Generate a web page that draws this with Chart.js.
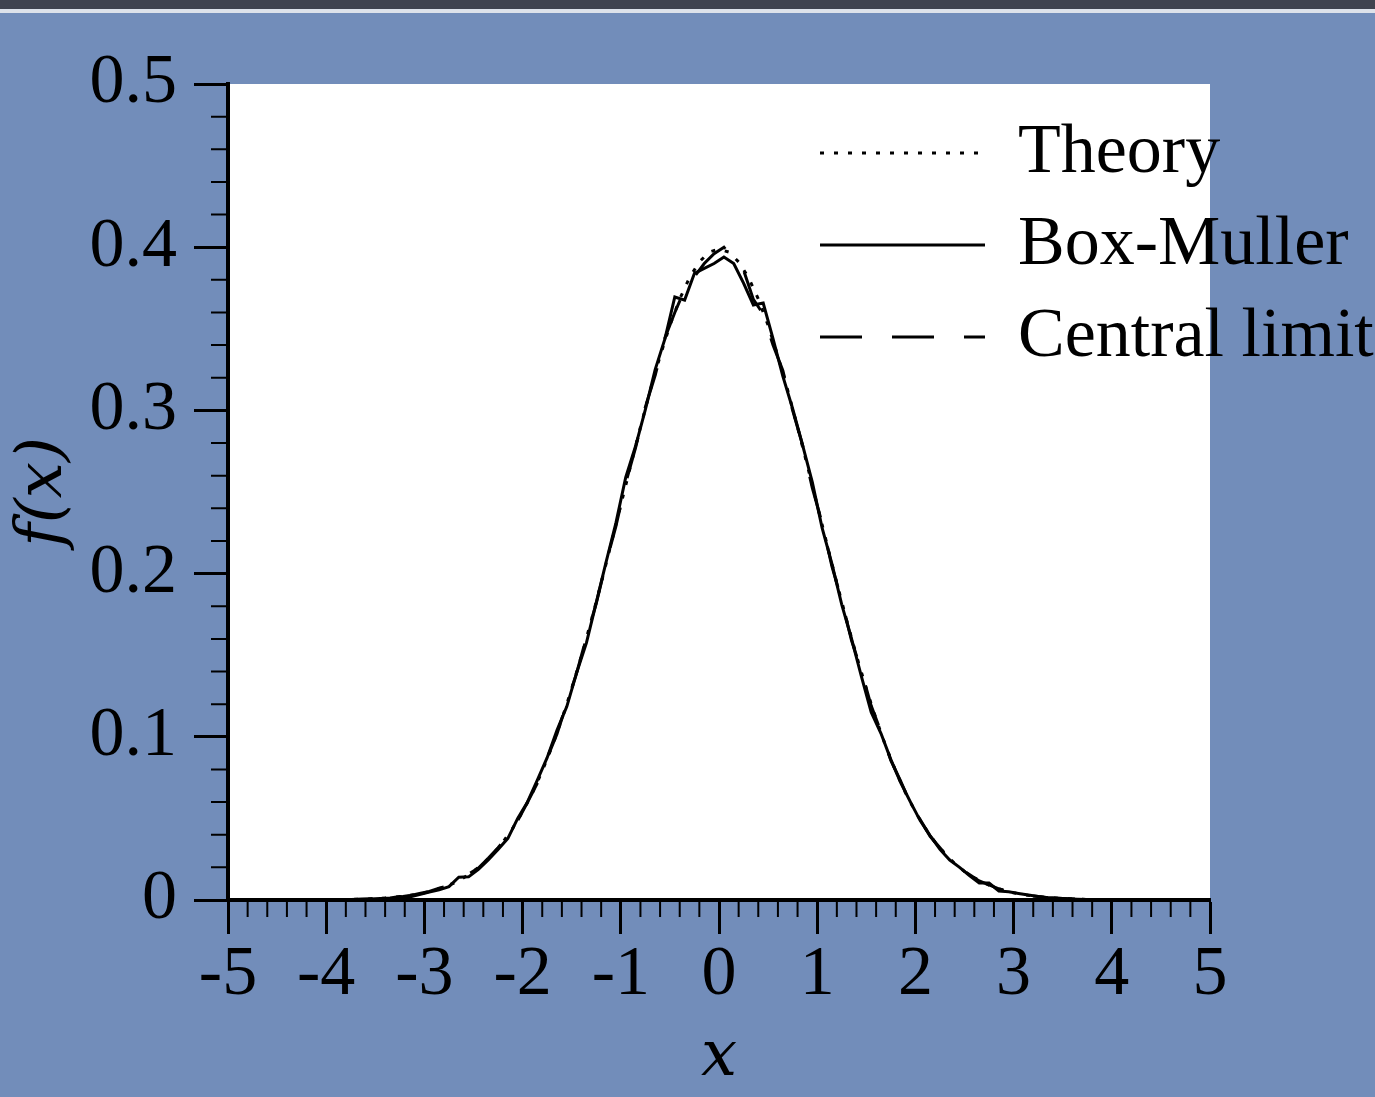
<!DOCTYPE html>
<html>
<head>
<meta charset="utf-8">
<script src="https://cdn.jsdelivr.net/npm/chart.js@4/dist/chart.umd.min.js"></script>
<style>
  html, body { margin: 0; padding: 0; background: #728dba; }
  canvas { display: block; }
</style>
</head>
<body>
<canvas id="myChart" width="1375" height="1097"></canvas>
<script>
// x positions of the theory curve
var theoryX = [-4.0, -3.9, -3.8, -3.7, -3.6, -3.5, -3.4, -3.3, -3.2, -3.1,
  -3.0, -2.9, -2.8, -2.7, -2.6, -2.5, -2.4, -2.3, -2.2, -2.1,
  -2.0, -1.9, -1.8, -1.7, -1.6, -1.5, -1.4, -1.3, -1.2, -1.1,
  -1.0, -0.9, -0.8, -0.7, -0.6, -0.5, -0.4, -0.3, -0.2, -0.1,
  0.0, 0.1, 0.2, 0.3, 0.4, 0.5, 0.6, 0.7, 0.8, 0.9,
  1.0, 1.1, 1.2, 1.3, 1.4, 1.5, 1.6, 1.7, 1.8, 1.9,
  2.0, 2.1, 2.2, 2.3, 2.4, 2.5, 2.6, 2.7, 2.8, 2.9,
  3.0, 3.1, 3.2, 3.3, 3.4, 3.5, 3.6, 3.7, 3.8, 3.9, 4.0];
var theoryY = [0.0001, 0.0002, 0.0003, 0.0004, 0.0006, 0.0009, 0.0012, 0.0017, 0.0024, 0.0033,
  0.0044, 0.0060, 0.0079, 0.0104, 0.0136, 0.0175, 0.0224, 0.0283, 0.0355, 0.0440,
  0.0540, 0.0656, 0.0790, 0.0940, 0.1109, 0.1295, 0.1497, 0.1714, 0.1942, 0.2179,
  0.2420, 0.2661, 0.2897, 0.3123, 0.3332, 0.3521, 0.3683, 0.3814, 0.3910, 0.3970,
  0.3989, 0.3970, 0.3910, 0.3814, 0.3683, 0.3521, 0.3332, 0.3123, 0.2897, 0.2661,
  0.2420, 0.2179, 0.1942, 0.1714, 0.1497, 0.1295, 0.1109, 0.0940, 0.0790, 0.0656,
  0.0540, 0.0440, 0.0355, 0.0283, 0.0224, 0.0175, 0.0136, 0.0104, 0.0079, 0.0060,
  0.0044, 0.0033, 0.0024, 0.0017, 0.0012, 0.0009, 0.0006, 0.0004, 0.0003, 0.0002, 0.0001];

// histogram bin centres for the two sampled curves
var binX = [-3.95, -3.85, -3.75, -3.65, -3.55, -3.45, -3.35, -3.25, -3.15, -3.05,
  -2.95, -2.85, -2.75, -2.65, -2.55, -2.45, -2.35, -2.25, -2.15, -2.05,
  -1.95, -1.85, -1.75, -1.65, -1.55, -1.45, -1.35, -1.25, -1.15, -1.05,
  -0.95, -0.85, -0.75, -0.65, -0.55, -0.45, -0.35, -0.25, -0.15, -0.05,
  0.05, 0.15, 0.25, 0.35, 0.45, 0.55, 0.65, 0.75, 0.85, 0.95,
  1.05, 1.15, 1.25, 1.35, 1.45, 1.55, 1.65, 1.75, 1.85, 1.95,
  2.05, 2.15, 2.25, 2.35, 2.45, 2.55, 2.65, 2.75, 2.85, 2.95,
  3.05, 3.15, 3.25, 3.35, 3.45, 3.55, 3.65, 3.75, 3.85, 3.95];
var boxMullerY = [0.0001, 0.0002, 0.0003, 0.0004, 0.0006, 0.0009, 0.0013, 0.0022, 0.0019, 0.0034,
  0.0049, 0.0062, 0.0082, 0.0140, 0.0142, 0.0188, 0.0245, 0.0310, 0.0378, 0.0500,
  0.0601, 0.0735, 0.0872, 0.1040, 0.1185, 0.1392, 0.1575, 0.1822, 0.2070, 0.2310,
  0.2590, 0.2780, 0.3005, 0.3250, 0.3440, 0.3695, 0.3676, 0.3840, 0.3870, 0.3900,
  0.3940, 0.3900, 0.3780, 0.3646, 0.3658, 0.3440, 0.3210, 0.3010, 0.2790, 0.2560,
  0.2280, 0.2060, 0.1810, 0.1600, 0.1370, 0.1150, 0.1020, 0.0860, 0.0720, 0.0600,
  0.0485, 0.0395, 0.0310, 0.0245, 0.0200, 0.0150, 0.0104, 0.0104, 0.0055, 0.0050,
  0.0040, 0.0030, 0.0021, 0.0014, 0.0010, 0.0007, 0.0005, 0.0003, 0.0002, 0.0001];
var centralLimitY = [0.0000, 0.0001, 0.0002, 0.0004, 0.0006, 0.0009, 0.0014, 0.0019, 0.0027, 0.0040,
  0.0052, 0.0072, 0.0090, 0.0121, 0.0158, 0.0196, 0.0256, 0.0320, 0.0392, 0.0486,
  0.0598, 0.0716, 0.0870, 0.1018, 0.1205, 0.1390, 0.1610, 0.1818, 0.2065, 0.2290,
  0.2555, 0.2770, 0.3020, 0.3215, 0.3445, 0.3600, 0.3740, 0.3820, 0.3900, 0.3960,
  0.4000, 0.3920, 0.3860, 0.3680, 0.3590, 0.3400, 0.3245, 0.3000, 0.2790, 0.2525,
  0.2310, 0.2045, 0.1835, 0.1590, 0.1405, 0.1190, 0.1030, 0.0855, 0.0728, 0.0590,
  0.0492, 0.0390, 0.0320, 0.0250, 0.0195, 0.0156, 0.0117, 0.0092, 0.0068, 0.0052,
  0.0037, 0.0027, 0.0021, 0.0014, 0.0010, 0.0007, 0.0005, 0.0003, 0.0002, 0.0001];

var seriesNames = ['Theory', 'Box-Muller', 'Central limit'];

function toPoints(xs, ys) {
  return xs.map(function (x, i) { return {x: x, y: ys[i]}; });
}

var serif = "Liberation Serif";
var mathSerif = "DejaVu Serif";
Chart.defaults.font.family = serif;

// blue page, white plot box
var backdrop = {
  id: 'backdrop',
  beforeDraw: function (chart) {
    var c = chart.ctx, a = chart.chartArea;
    c.save();
    c.fillStyle = '#728dba';
    c.fillRect(0, 0, chart.width, chart.height);
    c.fillStyle = '#40434f';
    c.fillRect(0, 0, chart.width, 9);
    c.fillStyle = '#dde2ea';
    c.fillRect(0, 9, chart.width, 4);
    c.fillStyle = '#ffffff';
    c.fillRect(a.left, a.top, a.right - a.left, a.bottom - a.top);
    c.restore();
  }
};

// minor tick marks on both axes
var minorTicks = {
  id: 'minorTicks',
  afterDraw: function (chart) {
    var c = chart.ctx, a = chart.chartArea;
    var xs = chart.scales.x, ys = chart.scales.y;
    c.save();
    c.strokeStyle = '#000';
    c.lineWidth = 2;
    c.beginPath();
    for (var i = 0; i <= 50; i++) {
      if (i % 5 === 0) continue;
      var px = xs.getPixelForValue(-5 + i * 0.2);
      c.moveTo(px, a.bottom);
      c.lineTo(px, a.bottom + 17);
    }
    for (var j = 0; j <= 25; j++) {
      if (j % 5 === 0) continue;
      var py = ys.getPixelForValue(j * 0.02);
      c.moveTo(a.left - 17, py);
      c.lineTo(a.left, py);
    }
    c.stroke();
    c.restore();
  }
};

// legend in the top right corner
var lineLegend = {
  id: 'lineLegend',
  afterDraw: function (chart) {
    var c = chart.ctx;
    c.save();
    c.font = '70px "Liberation Serif"';
    c.fillStyle = '#000';
    c.textBaseline = 'alphabetic';
    chart.data.datasets.forEach(function (ds, i) {
      var base = 172 + i * 92;
      c.strokeStyle = '#000';
      c.lineWidth = ds.borderWidth;
      c.setLineDash(ds.borderDash || []);
      c.beginPath();
      c.moveTo(820, base - 19);
      c.lineTo(985, base - 19);
      c.stroke();
      c.setLineDash([]);
      c.fillText(ds.label, 1018, base);
    });
    c.restore();
  }
};

var ctx = document.getElementById('myChart').getContext('2d');
var chart = new Chart(ctx, {
  type: 'line',
  data: {
    datasets: [{
      label: seriesNames[0],
      data: toPoints(theoryX, theoryY),
      borderColor: '#000',
      borderWidth: 3,
      borderDash: [4, 10],
      pointRadius: 0,
      tension: 0
    }, {
      label: seriesNames[1],
      data: toPoints(binX, boxMullerY),
      borderColor: '#000',
      borderWidth: 3,
      pointRadius: 0,
      tension: 0
    }, {
      label: seriesNames[2],
      data: toPoints(binX, centralLimitY),
      borderColor: '#000',
      borderWidth: 3,
      borderDash: [42, 30],
      pointRadius: 0,
      tension: 0
    }]
  },
  options: {
    responsive: false,
    animation: false,
    layout: {padding: {top: 84, right: 165, left: 0, bottom: 0}},
    plugins: {legend: {display: false}, tooltip: {enabled: false}},
    scales: {
      x: {
        type: 'linear',
        min: -5,
        max: 5,
        afterFit: function (s) { s.height = 197; },
        ticks: {stepSize: 1, color: '#000', padding: 0, font: {family: serif, size: 70}},
        grid: {drawOnChartArea: false, tickLength: 34, tickWidth: 3, tickColor: '#000'},
        border: {display: true, color: '#000', width: 4},
        title: {display: true, text: 'x', color: '#000', padding: {top: 0, bottom: 0},
          font: {family: mathSerif, size: 64, style: 'italic', weight: 'normal'}}
      },
      y: {
        min: 0,
        max: 0.5,
        afterFit: function (s) { s.width = 228; },
        ticks: {stepSize: 0.1, color: '#000', padding: 17, font: {family: serif, size: 70}},
        grid: {drawOnChartArea: false, tickLength: 34, tickWidth: 3, tickColor: '#000'},
        border: {display: true, color: '#000', width: 4},
        title: {display: true, text: 'f(x)', color: '#000', padding: {top: 6, bottom: 0},
          font: {family: mathSerif, size: 64, style: 'italic', weight: 'normal'}}
      }
    }
  },
  plugins: [backdrop, minorTicks, lineLegend]
});
</script>
</body>
</html>
